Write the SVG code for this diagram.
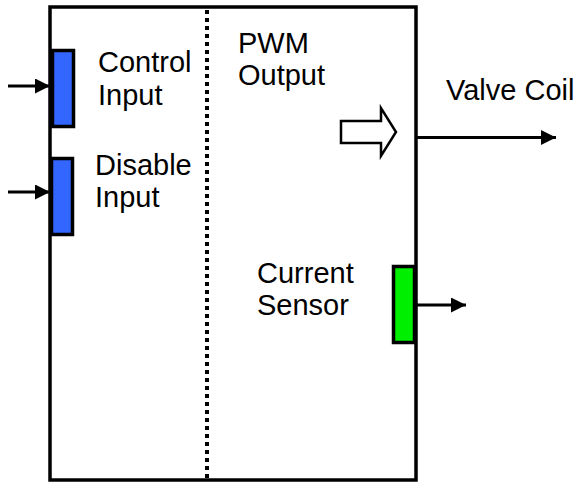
<svg xmlns="http://www.w3.org/2000/svg" width="578" height="482" viewBox="0 0 578 482">
<defs>
<style>
.lbl{font-family:"Liberation Sans",Arial,sans-serif;font-size:29px;fill:#000}
.port{stroke:#000;stroke-width:3.5}
.wire{stroke:#000;stroke-width:3;fill:none}
</style>
<marker id="ah" viewBox="0 0 10 10" refX="10" refY="5" markerWidth="5" markerHeight="5" markerUnits="strokeWidth" orient="auto">
<path d="M0,0 L10,5 L0,10 Z" fill="#000"/>
</marker>
</defs>
<rect width="578" height="482" fill="#fff"/>
<g id="block">
<rect x="50" y="7" width="366" height="473" fill="#fff" stroke="#000" stroke-width="3.5"/>
<line x1="207" y1="10" x2="207" y2="478" stroke="#000" stroke-width="4" stroke-dasharray="4 4"/>
</g>
<g id="control-input">
<rect class="port" x="52.5" y="50.5" width="21" height="76" fill="#3366ff"/>
<text class="lbl" x="98" y="72">Control</text>
<text class="lbl" x="98" y="105">Input</text>
</g>
<g id="disable-input">
<rect class="port" x="51.5" y="158.5" width="21" height="76" fill="#3366ff"/>
<text class="lbl" x="95" y="175">Disable</text>
<text class="lbl" x="95" y="207">Input</text>
</g>
<g id="pwm-output">
<text class="lbl" x="238" y="53">PWM</text>
<text class="lbl" x="238" y="85">Output</text>
<polygon points="341,121 381,121 381,108 396,132 381,156 381,143 341,143" fill="#fff" stroke="#000" stroke-width="2.5"/>
</g>
<g id="valve-coil">
<text class="lbl" x="446" y="100">Valve Coil</text>
</g>
<g id="current-sensor">
<rect class="port" x="393.5" y="266.5" width="21" height="76" fill="#00ee00"/>
<text class="lbl" x="257" y="283">Current</text>
<text class="lbl" x="257" y="315">Sensor</text>
</g>
<g id="connectors">
<line class="wire" x1="8" y1="86" x2="50" y2="86" marker-end="url(#ah)"/>
<line class="wire" x1="8" y1="192" x2="50" y2="192" marker-end="url(#ah)"/>
<line class="wire" x1="416" y1="137.5" x2="556" y2="137.5" marker-end="url(#ah)"/>
<line class="wire" x1="415" y1="305" x2="466" y2="305" marker-end="url(#ah)"/>
</g>
</svg>
